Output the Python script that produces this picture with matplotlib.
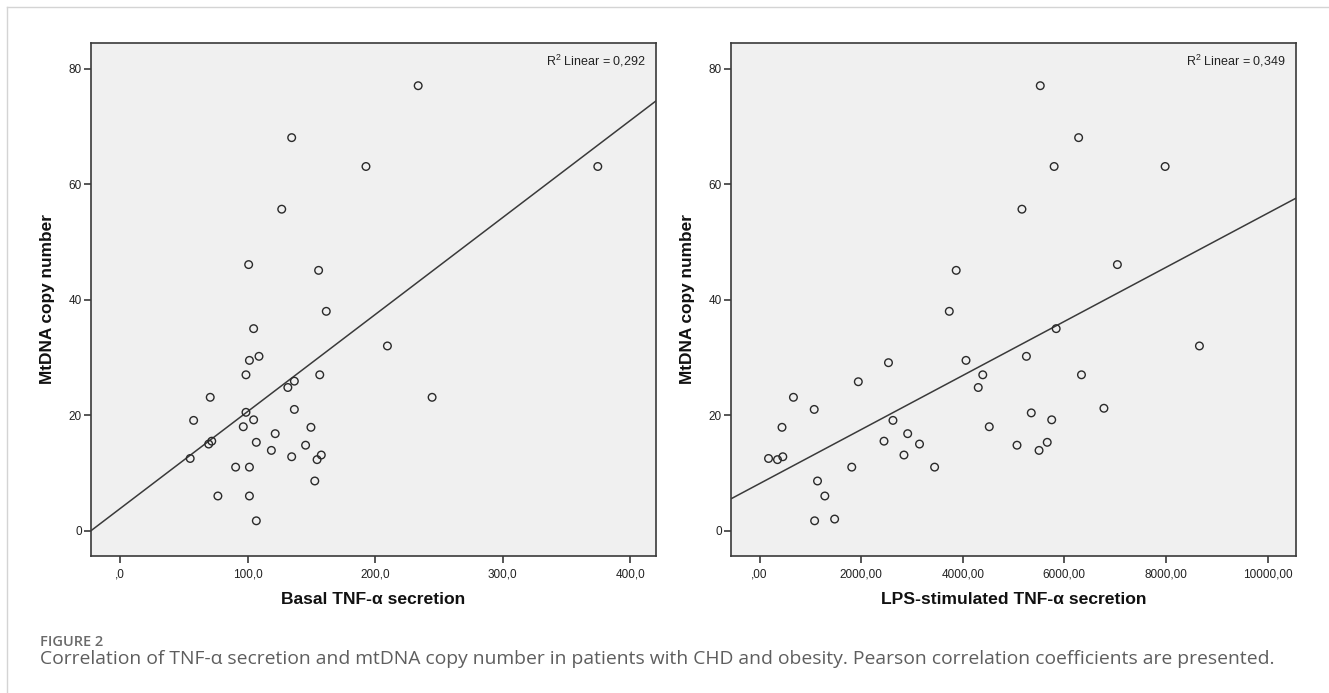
import numpy as np
import matplotlib
matplotlib.use("Agg")
import matplotlib.pyplot as plt
from matplotlib.lines import Line2D

# ---------------- data ----------------
basal_tnf = [161.7, 104.8, 209.6, 109.0, 101.5, 98.8, 156.6, 136.7, 131.6, 70.8,
             244.6, 136.7, 57.8, 98.8, 104.8, 96.7, 149.7, 121.7, 72.0, 69.6,
             106.9, 145.5, 118.7, 55.1, 134.6, 157.8, 154.5, 90.7, 101.5, 152.7,
             76.8, 101.5, 106.9, 233.7, 134.6, 192.8, 374.4, 126.8, 100.9, 155.7]
basal_mtdna = [38.0, 35.0, 32.0, 30.2, 29.5, 27.0, 27.0, 25.9, 24.8, 23.1,
               23.1, 21.0, 19.1, 20.5, 19.2, 18.0, 17.9, 16.8, 15.5, 15.0,
               15.3, 14.8, 13.9, 12.5, 12.8, 13.1, 12.3, 11.0, 11.0, 8.6,
               6.0, 6.0, 1.7, 77.1, 68.1, 63.1, 63.1, 55.7, 46.1, 45.1]

lps_tnf = [3735, 5839, 8659, 5253, 4064, 2538, 4394, 6337, 1944, 4305,
           667, 1076, 6779, 5349, 2626, 5751, 442, 4522, 2916, 2450,
           3149, 5068, 5663, 5502, 177, 353, 458, 2843, 1815, 3446,
           1141, 1285, 1084, 1478, 5526, 6281, 5799, 7984, 5165, 3871, 7044]
lps_mtdna = [38.0, 35.0, 32.0, 30.2, 29.5, 29.1, 27.0, 27.0, 25.8, 24.8,
             23.1, 21.0, 21.2, 20.4, 19.1, 19.2, 17.9, 18.0, 16.8, 15.5,
             15.0, 14.8, 15.3, 13.9, 12.5, 12.3, 12.8, 13.1, 11.0, 11.0,
             8.6, 6.0, 1.7, 2.0, 77.1, 68.1, 63.1, 63.1, 55.7, 45.1, 46.1]

y_ticks = [0, 20, 40, 60, 80]
y_ticklabels = ["0", "20", "40", "60", "80"]
basal_xticks = [0, 100, 200, 300, 400]
basal_xticklabels = [",0", "100,0", "200,0", "300,0", "400,0"]
lps_xticks = [0, 2000, 4000, 6000, 8000, 10000]
lps_xticklabels = [",00", "2000,00", "4000,00", "6000,00", "8000,00", "10000,00"]
r2_labels = ["0,292", "0,349"]
xlabels = ["Basal TNF-\u03b1 secretion", "LPS-stimulated TNF-\u03b1 secretion"]
ylabel = "MtDNA copy number"
fig_label = "FIGURE 2"
caption = ("Correlation of TNF-\u03b1 secretion and mtDNA copy number in patients with CHD "
           "and obesity. Pearson correlation coefficients are presented.")

# ---------------- style ----------------
plt.rcParams["font.family"] = ["Liberation Sans", "DejaVu Sans"]
plt.rcParams["mathtext.fontset"] = "custom"
plt.rcParams["mathtext.rm"] = "Liberation Sans"
plt.rcParams["mathtext.it"] = "Liberation Sans"

W, H = 1329, 693
fig = plt.figure(figsize=(W / 100, H / 100), dpi=100)
fig.patch.set_facecolor("white")

def px_axes(x0, x1, y0, y1):
    return fig.add_axes([x0 / W, 1 - y1 / H, (x1 - x0) / W, (y1 - y0) / H])

ax1 = px_axes(91, 656, 43, 556)
ax2 = px_axes(731, 1296, 43, 556)

panels = [
    (ax1, basal_tnf, basal_mtdna, (-22.6, 420.0), basal_xticks, basal_xticklabels),
    (ax2, lps_tnf, lps_mtdna, (-562, 10560), lps_xticks, lps_xticklabels),
]

edge = "#3a3a3a"
for i, (ax, xs, ys, xlim, xt, xtl) in enumerate(panels):
    ax.set_facecolor("#f0f0f0")
    xs = np.asarray(xs, float)
    ys = np.asarray(ys, float)
    ax.scatter(xs, ys, s=30, facecolors="none", edgecolors="#2a2a2a",
               linewidths=1.0, zorder=3)
    slope, intercept = np.polyfit(xs, ys, 1)
    lx = np.array(xlim)
    ax.plot(lx, intercept + slope * lx, color="#3a3a3a", lw=1.1, zorder=2)
    ax.set_xlim(*xlim)
    ax.set_ylim(-4.4, 84.5)
    ax.set_xticks(xt)
    ax.set_xticklabels(xtl)
    ax.set_yticks(y_ticks)
    ax.set_yticklabels(y_ticklabels)
    for s in ax.spines.values():
        s.set_color(edge)
        s.set_linewidth(1.2)
    ax.tick_params(axis="both", direction="out", length=5, width=1.2,
                   color=edge, labelsize=8.5, labelcolor="#222222")
    ax.tick_params(axis="y", pad=1.5)
    ax.tick_params(axis="x", pad=4)
    ax.set_xlabel(xlabels[i], fontsize=12.6, fontweight="bold", color="#111111",
                  labelpad=8)
    ax.set_ylabel(ylabel, fontsize=12.4, fontweight="bold", color="#111111",
                  labelpad=10)
    ax.text(0.982, 0.965, r"R$^2$ Linear = " + r2_labels[i], transform=ax.transAxes,
            ha="right", va="center", fontsize=9, color="#222222")

# light frame lines
fig.add_artist(Line2D([7 / W, 1], [1 - 7 / H, 1 - 7 / H], transform=fig.transFigure,
                      color="#d4d4d4", lw=1.0))
fig.add_artist(Line2D([7 / W, 7 / W], [0, 1 - 7 / H], transform=fig.transFigure,
                      color="#d4d4d4", lw=1.0))

fig.text(40 / W, 1 - 642 / H, fig_label, fontsize=10.5, fontweight="semibold",
         color="#6a6a6a", family=["Open Sans", "DejaVu Sans"], ha="left", va="center")
fig.text(40 / W, 1 - 659 / H, caption, fontsize=13.9, color="#5e5e5e",
         family=["Open Sans", "DejaVu Sans"], ha="left", va="center")

fig.savefig("out.png", dpi=100, facecolor="white")
